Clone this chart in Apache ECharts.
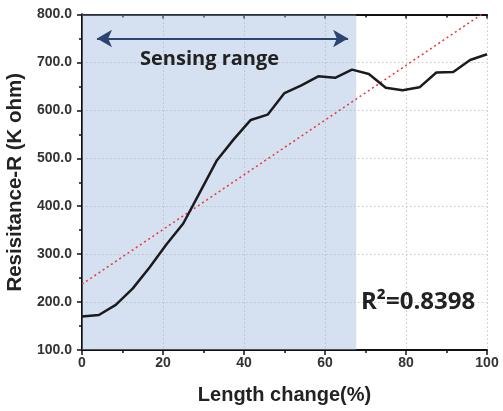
<!DOCTYPE html>
<html>
<head>
<meta charset="utf-8">
<script src="https://cdn.jsdelivr.net/npm/echarts@6/dist/echarts.min.js"></script>
<style>html,body{margin:0;padding:0;background:#fff}#c{width:503px;height:411px}</style>
</head>
<body>
<div id="c"></div>
<script>
// Data
var lengthChange = [0, 4.17, 8.33, 12.5, 16.67, 20.83, 25, 29.17, 33.33, 37.5, 41.67, 45.83, 50,
  54.17, 58.33, 62.5, 66.67, 70.83, 75, 79.17, 83.33, 87.5, 91.67, 95.83, 100];
var resistance = [170, 173, 194, 228, 272, 320, 364, 430, 496, 540, 580, 591, 636,
  652, 671, 668, 685, 676, 647, 642, 648, 679, 680, 705, 717];
var sensingRange = [0, 67.7];
var arrowSpan = [3.7, 65.7];
var arrowLevel = 750;
var xTicks = [0, 20, 40, 60, 80, 100];
var yTicks = [100, 200, 300, 400, 500, 600, 700, 800];
var r2Text = 'R\u00B2=0.8398';

// least-squares linear fit of the data
var n = lengthChange.length, sx = 0, sy = 0, sxx = 0, sxy = 0;
for (var i = 0; i < n; i++) { sx += lengthChange[i]; sy += resistance[i]; sxx += lengthChange[i]*lengthChange[i]; sxy += lengthChange[i]*resistance[i]; }
var slope = (n*sxy - sx*sy) / (n*sxx - sx*sx);
var intercept = (sy - slope*sx) / n;
var fitLine = [[xTicks[0], intercept + slope*xTicks[0]], [xTicks[xTicks.length-1], intercept + slope*xTicks[xTicks.length-1]]];

var font = '"Liberation Sans", Arial, sans-serif';
var chart = echarts.init(document.getElementById('c'), null, {renderer: 'canvas'});
var axLine = {show: true, lineStyle: {color: '#111', width: 2}};
var split = {show: true, lineStyle: {color: '#c8c8c8', type: [1.5, 2.5], width: 1}};
chart.setOption({
  animation: false,
  grid: {left: 82, right: 16, top: 14.5, bottom: 61, containLabel: false, outerBoundsMode: 'none'},
  xAxis: [{
    type: 'value', min: 0, max: 100, interval: 20, position: 'bottom',
    axisLine: axLine,
    axisTick: {show: true, inside: false, length: 5, lineStyle: {color: '#111', width: 1.5}},
    minorTick: {show: true, splitNumber: 2, length: 3, lineStyle: {color: '#111', width: 1.5}},
    axisLabel: {color: '#333', fontFamily: font, fontWeight: 'bold', fontSize: 14, margin: 6},
    splitLine: split,
    name: 'Length change(%)', nameLocation: 'middle', nameGap: 35,
    nameTextStyle: {color: '#222', fontFamily: font, fontWeight: 'bold', fontSize: 20}
  }, {
    type: 'value', min: 0, max: 100, interval: 20, position: 'top',
    axisLine: axLine,
    axisTick: {show: true, inside: true, length: 4, lineStyle: {color: '#111', width: 1.5}},
    minorTick: {show: true, splitNumber: 2, length: 3, lineStyle: {color: '#111', width: 1.5}},
    axisLabel: {show: false}, splitLine: {show: false}
  }],
  yAxis: [{
    type: 'value', min: 100, max: 800, interval: 100, position: 'left',
    axisLine: axLine,
    axisTick: {show: true, inside: false, length: 5, lineStyle: {color: '#111', width: 1.5}},
    minorTick: {show: true, splitNumber: 2, length: 3, lineStyle: {color: '#111', width: 1.5}},
    axisLabel: {color: '#333', fontFamily: font, fontWeight: 'bold', fontSize: 14, margin: 10,
      formatter: function (v) { return v.toFixed(1); }},
    splitLine: split,
    name: 'Resisitance-R (K ohm)', nameLocation: 'middle', nameGap: 50,
    nameTextStyle: {color: '#222', fontFamily: font, fontWeight: 'bold', fontSize: 20.5}
  }, {
    type: 'value', min: 100, max: 800, interval: 100, position: 'right',
    axisLine: axLine,
    axisTick: {show: true, inside: true, length: 4, lineStyle: {color: '#111', width: 1.5}},
    minorTick: {show: true, splitNumber: 2, length: 3, lineStyle: {color: '#111', width: 1.5}},
    axisLabel: {show: false}, splitLine: {show: false}
  }],
  series: [{
    type: 'line', xAxisIndex: 0, yAxisIndex: 0,
    data: lengthChange.map(function (x, i) { return [x, resistance[i]]; }),
    showSymbol: false, smooth: false, z: 5,
    lineStyle: {color: '#1b1b1f', width: 2.5},
    markArea: {silent: true, itemStyle: {color: 'rgba(150,178,218,0.4)'},
      data: [[{xAxis: sensingRange[0]}, {xAxis: sensingRange[1]}]]},
    markLine: {silent: true, symbol: ['arrow', 'arrow'], symbolSize: [13, 15],
      label: {show: false},
      lineStyle: {color: '#2c4470', width: 2, type: 'solid'},
      data: [[{coord: [arrowSpan[0], arrowLevel]}, {coord: [arrowSpan[1], arrowLevel]}]]}
  }, {
    type: 'line', xAxisIndex: 0, yAxisIndex: 0, data: fitLine, clip: true,
    showSymbol: false, z: 4,
    lineStyle: {color: '#e8353b', width: 1.5, type: [2, 3]}
  }],
  graphic: [{
    type: 'text', left: 140, top: 49, z: 10,
    style: {text: 'Sensing range', font: 'bold 20px "Open Sans", sans-serif', fill: '#222'}
  }, {
    type: 'text', left: 361, top: 290, z: 10,
    style: {text: r2Text, font: 'bold 24px "Open Sans", sans-serif', fill: '#222'}
  }]
});
</script>
</body>
</html>
